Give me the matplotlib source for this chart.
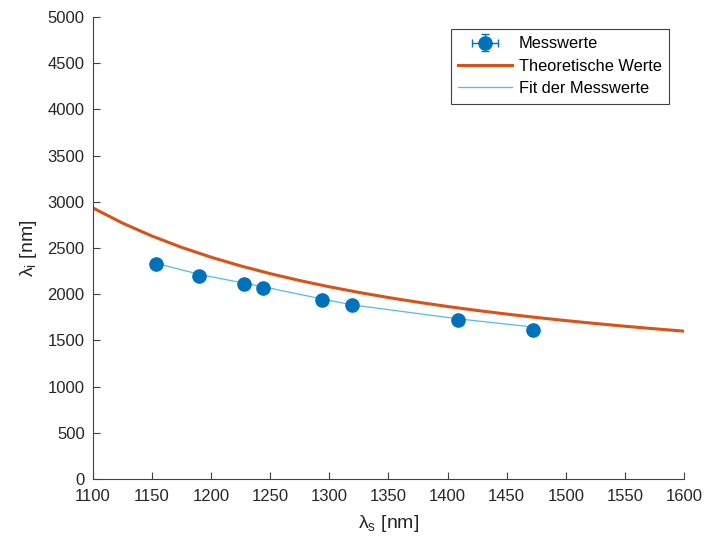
import numpy as np
import matplotlib.pyplot as plt
from matplotlib.container import ErrorbarContainer
from matplotlib.legend_handler import HandlerErrorbar

plt.rcParams['font.family'] = ['Liberation Sans', 'DejaVu Sans']
plt.rcParams['mathtext.fontset'] = 'custom'
plt.rcParams['mathtext.rm'] = 'Liberation Sans'
plt.rcParams['mathtext.it'] = 'Liberation Sans'

# Messwerte: Signal- und Idlerwellenlänge in nm
lambda_s = [1153, 1190, 1228, 1244, 1294, 1319, 1409, 1472]
lambda_i = [2325, 2195, 2105, 2070, 1935, 1880, 1722, 1615]
err_s = [2, 2, 2, 2, 2, 2, 2, 2]
err_i = [20, 20, 20, 20, 20, 20, 20, 20]

# Fit der Messwerte an den gemessenen Stellen
fit_i = [2335, 2215, 2118, 2080, 1948, 1885, 1733, 1645]

# Theoretische Werte
theo_s = [1100, 1125, 1150, 1175, 1200, 1225, 1250, 1275, 1300, 1325, 1350,
          1375, 1400, 1425, 1450, 1475, 1500, 1525, 1550, 1575, 1600]
theo_i = [2933.3, 2769.2, 2628.6, 2506.7, 2400.0, 2305.9, 2222.2, 2147.4,
          2080.0, 2019.0, 1963.6, 1913.0, 1866.7, 1824.0, 1784.6, 1748.1,
          1714.3, 1682.8, 1653.3, 1625.8, 1600.0]

blue = '#0072BD'
orange = '#D95319'
light = '#4DBEEE'
dark = '#262626'

fig = plt.figure(figsize=(7.06, 5.43), dpi=100)
ax = fig.add_axes([0.1317, 0.1179, 0.8371, 0.8508])

h_mess = ax.errorbar(lambda_s, lambda_i, xerr=err_s, yerr=err_i, fmt='o', color=blue,
                     markersize=9.5, elinewidth=1, capsize=3, label='Messwerte', zorder=4)
h_theo, = ax.plot(theo_s, theo_i, color=orange, linewidth=2.2,
                  label='Theoretische Werte', zorder=2)
h_fit, = ax.plot(lambda_s, fit_i, color=light, linewidth=0.9,
                 label='Fit der Messwerte', zorder=3)

ax.set_xlim(1100, 1600)
ax.set_ylim(0, 5000)
ax.set_xticks(np.arange(1100, 1601, 50))
ax.set_yticks(np.arange(0, 5001, 500))

ax.spines['top'].set_visible(False)
ax.spines['right'].set_visible(False)
for side in ['left', 'bottom']:
    ax.spines[side].set_color('#404040')
    ax.spines[side].set_linewidth(0.8)
ax.tick_params(direction='in', length=5, width=0.8, colors='#404040',
               labelcolor=dark, labelsize=12)
ax.tick_params(axis='x', pad=7)
ax.tick_params(axis='y', pad=6)

ax.set_xlabel(r'$\mathregular{\lambda_s}$ [nm]', fontsize=14, color=dark, labelpad=7)
ax.set_ylabel(r'$\mathregular{\lambda_i}$ [nm]', fontsize=14, color=dark, labelpad=6)

leg = ax.legend([h_mess, h_theo, h_fit],
                ['Messwerte', 'Theoretische Werte', 'Fit der Messwerte'],
                loc='upper right', bbox_to_anchor=(0.9746, 0.974), borderaxespad=0,
                fontsize=11.8, fancybox=False, framealpha=1, edgecolor='#404040',
                handlelength=3.3, handletextpad=0.4, labelspacing=0.45, borderpad=0.45,
                handler_map={ErrorbarContainer: HandlerErrorbar(xerr_size=0.8, yerr_size=0.5,
                                                                 numpoints=1)})
leg.get_frame().set_linewidth(0.8)
for t in leg.get_texts():
    t.set_color('black')

fig.savefig('out.png', dpi=100)
